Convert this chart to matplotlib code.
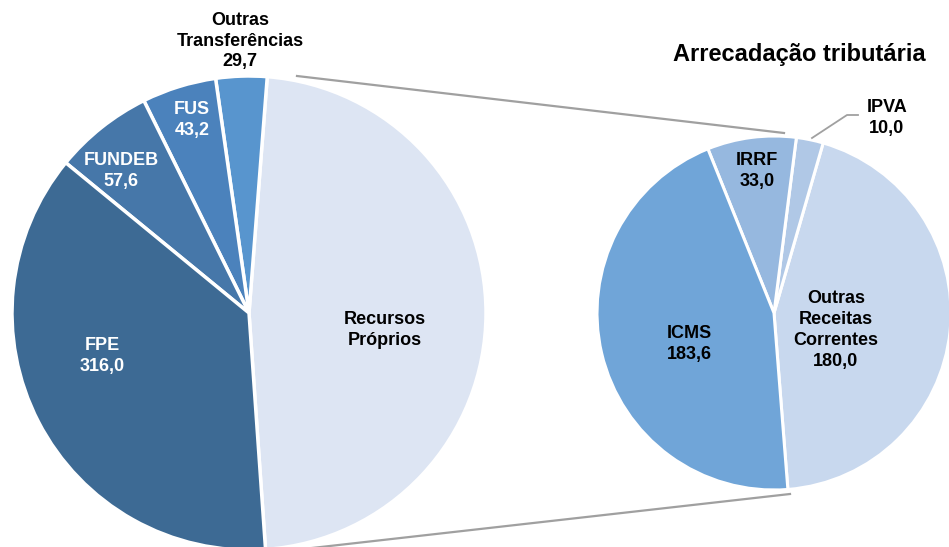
import matplotlib
matplotlib.use("Agg")
import matplotlib.pyplot as plt

plt.rcParams['font.family'] = ['Liberation Sans', 'DejaVu Sans']

# right pie: arrecadacao tributaria
trib_labels = ['Outras\nReceitas\nCorrentes', 'IPVA', 'IRRF', 'ICMS']
trib_values = [180.0, 10.0, 33.0, 183.6]
trib_colors = ['#C8D8EE', '#B0C8E6', '#96B8DF', '#70A5D8']

# left pie: receitas totais (recursos proprios = soma da arrecadacao)
rec_labels = ['Recursos\nPróprios', 'Outras\nTransferências', 'FUS', 'FUNDEB', 'FPE']
rec_values = [sum(trib_values), 29.7, 43.2, 57.6, 316.0]
rec_colors = ['#DDE5F3', '#5895CE', '#4B82BC', '#4677A9', '#3D6A94']

H = 547
def fmt(v):
    return f'{v:.1f}'.replace('.', ',')

fig = plt.figure(figsize=(9.49, 5.47), dpi=100)
ax = fig.add_axes([0, 0, 1, 1])

# connector lines (drawn first, behind pies)
ax.plot([297, 784], [H - 76, H - 133], color='#A0A0A0', lw=1.6, zorder=1)
ax.plot([312, 790], [H - 548, H - 494], color='#A0A0A0', lw=1.6, zorder=1)

ax.pie(rec_values, colors=rec_colors, startangle=-86, counterclock=True,
       center=(249, H - 313), radius=237,
       wedgeprops=dict(edgecolor='white', linewidth=2.5), frame=True)
ax.pie(trib_values, colors=trib_colors, startangle=-85.5, counterclock=True,
       center=(774, H - 313), radius=177,
       wedgeprops=dict(edgecolor='white', linewidth=2.2), frame=True)
ax.set_xlim(0, 949)
ax.set_ylim(0, H)
ax.set_aspect('equal')
ax.axis('off')

fs = 13
kw = dict(ha='center', va='center', fontsize=fs, fontweight='bold', linespacing=1.3)

ax.text(385, H - 330, rec_labels[0], color='black', **kw)
ax.text(240, H - 41, rec_labels[1] + '\n' + fmt(rec_values[1]), color='black', **kw)
ax.text(192, H - 120, rec_labels[2] + '\n' + fmt(rec_values[2]), color='white', **kw)
ax.text(121, H - 171, rec_labels[3] + '\n' + fmt(rec_values[3]), color='white', **kw)
ax.text(102, H - 356, rec_labels[4] + '\n' + fmt(rec_values[4]), color='white', **kw)

ax.text(836, H - 330, trib_labels[0] + '\n' + fmt(trib_values[0]), color='black', **kw)
ax.text(887, H - 118, trib_labels[1] + '\n' + fmt(trib_values[1]), color='black', **kw)
ax.text(757, H - 171, trib_labels[2] + '\n' + fmt(trib_values[2]), color='black', **kw)
ax.text(689, H - 344, trib_labels[3] + '\n' + fmt(trib_values[3]), color='black', **kw)

# leader line for IPVA
ax.plot([812, 847, 858], [H - 138, H - 115, H - 115], color='#A0A0A0', lw=1.3)

ax.text(799, H - 55, 'Arrecadação tributária', ha='center', va='center',
        fontsize=17, fontweight='bold')

fig.savefig('out.png', dpi=100)
